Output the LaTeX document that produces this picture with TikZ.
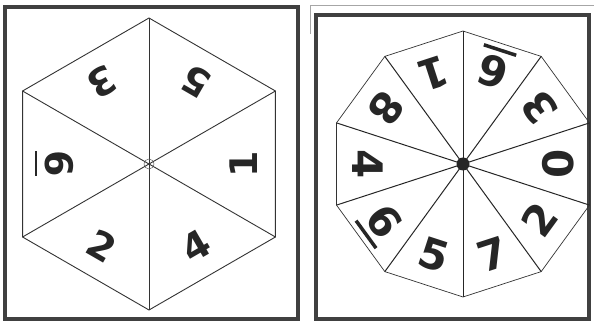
\documentclass[tikz,border=0pt]{standalone}
\usepackage{fontspec}
\setmainfont{DejaVu Sans}
\usepackage{tikz}

% a six with its bar underneath, the bar not counted in the box
\newcommand{\barsix}[3]{\ooalign{6\cr\hidewidth\smash{\rule[-#2]{#1}{#3}}\hidewidth\cr}}

\begin{document}
\begin{tikzpicture}[x=1pt,y=1pt,
    frame/.style={line width=3.5pt,black!75},
    edge/.style={black!80,line width=0.9pt},
    hexdigit/.style={inner sep=0pt,text=black!85,font=\fontsize{38}{38}\selectfont\bfseries},
    decdigit/.style={inner sep=0pt,text=black!85,font=\fontsize{42}{42}\selectfont\bfseries}]
  \useasboundingbox (0,0) rectangle (594,324);
  \fill[white] (0,0) rectangle (594,324);
  % frames
  \draw[frame] (5,317) rectangle (298,5);
  \draw[frame] (316,309) rectangle (589,5);
  \draw[black!35,line width=0.6pt] (310,290) -- (310,319) -- (594,319);

  % hexagon spinner
  \begin{scope}[shift={(149,160)}]
    \draw[edge] (90:146) \foreach \k in {1,...,5} { -- (90+60*\k:146) } -- cycle;
    \foreach \k in {0,...,5}
      \draw[edge] (0,0) -- (90+60*\k:146);
    \draw[black!60,line width=0.5pt] (0,0) circle (5);
    \foreach \a/\d in {60/5,0/1,-60/4,-120/2,120/3}
      \node[hexdigit,rotate=\a+90] (hex\a) at (\a:95) {\d};
    \node[hexdigit,rotate=270] (hex180) at (180:89) {\barsix{25pt}{11pt}{2.5pt}};
  \end{scope}

  % decagon spinner
  \begin{scope}[shift={(463,160)}]
    \draw[black!80,line width=0.7pt] (90:133) \foreach \k in {1,...,9} { -- (90+36*\k:133) } -- cycle;
    \foreach \k in {0,...,9}
      \draw[black!85,line width=1pt] (0,0) -- (90+36*\k:133);
    \fill[black!85] (0,0) circle (6.5);
    \foreach \a/\d in {108/1,36/3,0/0,-36/2,-72/7,-108/5,180/4,144/8}
      \node[decdigit,rotate=\a+90] (dec\a) at (\a:95) {\d};
    \foreach \a in {72,-144}
      \node[decdigit,rotate=\a+90] (dec\a) at (\a:97) {\barsix{34pt}{9pt}{3.5pt}};
  \end{scope}
\end{tikzpicture}
\end{document}
